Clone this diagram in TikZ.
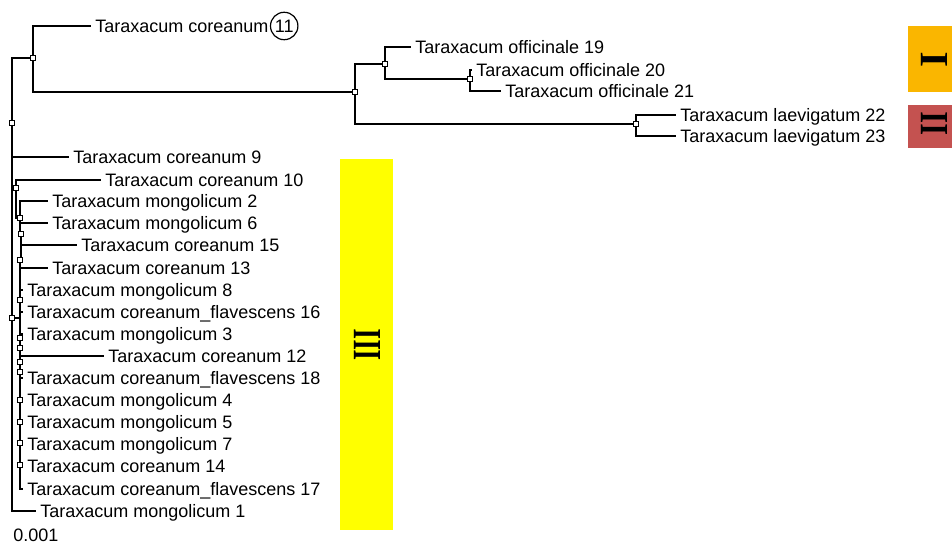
\documentclass[tikz,border=0pt]{standalone}
\usepackage{fontspec}
\setmainfont{Liberation Sans}
\newfontfamily\numfont{Liberation Serif}
\definecolor{grouporange}{RGB}{250,182,0}
\definecolor{groupred}{RGB}{196,82,80}
\definecolor{groupyellow}{RGB}{255,255,0}

\begin{document}
\begin{tikzpicture}[x=0.5pt, y=-0.5pt,
  tip/.style={anchor=west, inner sep=2pt, font=\fontsize{9}{10}\selectfont, text height=6.5pt, text depth=0pt},
  branch/.style={line width=1pt},
  knot/.style={draw, fill=white, rectangle, inner sep=0pt, minimum size=2.6pt, line width=0.4pt},
  numeral/.style={inner sep=0pt, font=\fontsize{20}{20}\selectfont\numfont\bfseries}]

  \useasboundingbox (0,0) rectangle (952,544);

  % group boxes
  \fill[groupyellow] (340,159) rectangle (393,530);
  \fill[grouporange] (908,26) rectangle (952,92);
  \fill[groupred] (908,105) rectangle (952,148);
  \node[numeral] (g1num) at (367,345) {\rotatebox{90}{\scalebox{0.68}[1]{III}}};
  \node[numeral] (g2num) at (934,60) {\rotatebox{90}{I}};
  \node[numeral] (g3num) at (934,124) {\rotatebox{90}{\scalebox{0.75}[1]{II}}};

  % inner knots
  \coordinate (r) at (12,123);
  \coordinate (r2) at (12,318);
  \coordinate (o) at (33,58);
  \coordinate (a) at (355,92);
  \coordinate (b) at (385,64);
  \coordinate (c) at (636,124);
  \coordinate (d) at (470,79);
  \coordinate (g1) at (16,188);
  \coordinate (g2) at (20,218);
  \coordinate (g3) at (21,234);
  \coordinate (g4) at (20,260);
  \coordinate (h1) at (20,300);
  \coordinate (h2) at (20,338);
  \coordinate (h3) at (20,348);
  \coordinate (h4) at (20,362);
  \coordinate (h5) at (20,372);
  \coordinate (h6) at (20,400);
  \coordinate (h7) at (20,422);
  \coordinate (h8) at (20,443);
  \coordinate (h9) at (20,465);

  % tips
  \node[tip] (t11) at (91,26) {Taraxacum coreanum};
  \node[draw, circle, inner sep=0.9pt, line width=0.6pt, anchor=west,
        font=\fontsize{9}{10}\selectfont] (k11) at ([xshift=-1.5pt]t11.east) {11};
  \node[tip] (t19) at (411,47) {Taraxacum officinale 19};
  \node[tip] (t20) at (472,70) {Taraxacum officinale 20};
  \node[tip] (t21) at (501,91) {Taraxacum officinale 21};
  \node[tip] (t22) at (676,115) {Taraxacum laevigatum 22};
  \node[tip] (t23) at (676,136) {Taraxacum laevigatum 23};
  \node[tip] (t9) at (69,157) {Taraxacum coreanum 9};
  \node[tip] (t10) at (101,180) {Taraxacum coreanum 10};
  \node[tip] (t2) at (48,201) {Taraxacum mongolicum 2};
  \node[tip] (t6) at (48,223) {Taraxacum mongolicum 6};
  \node[tip] (t15) at (77,245) {Taraxacum coreanum 15};
  \node[tip] (t13) at (48,268) {Taraxacum coreanum 13};
  \node[tip] (t8) at (23,290) {Taraxacum mongolicum 8};
  \node[tip] (t16) at (23,312) {Taraxacum coreanum\_flavescens 16};
  \node[tip] (t3) at (23,334) {Taraxacum mongolicum 3};
  \node[tip] (t12) at (104,356) {Taraxacum coreanum 12};
  \node[tip] (t18) at (23,378) {Taraxacum coreanum\_flavescens 18};
  \node[tip] (t4) at (23,400) {Taraxacum mongolicum 4};
  \node[tip] (t5) at (23,422) {Taraxacum mongolicum 5};
  \node[tip] (t7) at (23,444) {Taraxacum mongolicum 7};
  \node[tip] (t14) at (23,466) {Taraxacum coreanum 14};
  \node[tip] (t17) at (23,489) {Taraxacum coreanum\_flavescens 17};
  \node[tip] (t1) at (36,511) {Taraxacum mongolicum 1};

  % scale
  \node[tip] (scale) at (9,535) {0.001};

  % outgroup branches
  \draw[branch] (r) |- (o);
  \draw[branch] (o) |- (t11.west);
  \draw[branch] (o) |- (a);
  \draw[branch] (a) |- (b);
  \draw[branch] (a) |- (c);
  \draw[branch] (b) |- (t19.west);
  \draw[branch] (b) |- (d);
  \draw[branch] (d) |- (t20.west);
  \draw[branch] (d) |- (t21.west);
  \draw[branch] (c) |- (t22.west);
  \draw[branch] (c) |- (t23.west);

  % ingroup branches
  \draw[branch] (r) -- (r2);
  \draw[branch] (r2) |- (t1.west);
  \draw[branch] (r) |- (t9.west);
  \draw[branch] (g1) |- (t10.west);
  \draw[branch] (g1) |- (g2);
  \draw[branch] (g2) |- (t2.west);
  \draw[branch] (g2) |- (t6.west);
  \draw[branch] (g2) |- (g3);
  \draw[branch] (g3) |- (t15.west);
  \draw[branch] (g3) |- (g4);
  \draw[branch] (g4) |- (t13.west);
  \draw[branch] (g4) -- (h1);
  \draw[branch] (r2) -| (h1);
  \draw[branch] (h1) |- (t8.west);
  \draw[branch] (h1) |- (t16.west);
  \draw[branch] (h1) -- (h2);
  \draw[branch] (h2) |- (t3.west);
  \draw[branch] (h2) -- (h3);
  \draw[branch] (h3) |- (t12.west);
  \draw[branch] (h3) -- (h4);
  \draw[branch] (h4) -- (h5);
  \draw[branch] (h5) |- (t18.west);
  \draw[branch] (h5) -- (h6);
  \draw[branch] (h6) |- (t4.west);
  \draw[branch] (h6) -- (h7);
  \draw[branch] (h7) |- (t5.west);
  \draw[branch] (h7) -- (h8);
  \draw[branch] (h8) |- (t7.west);
  \draw[branch] (h8) -- (h9);
  \draw[branch] (h9) |- (t14.west);
  \draw[branch] (h9) |- (t17.west);

  % knot marks
  \foreach \k in {r,r2,o,a,b,c,d,g1,g2,g3,g4,h1,h2,h3,h4,h5,h6,h7,h8,h9}
    \node[knot] at (\k) {};

\end{tikzpicture}
\end{document}
